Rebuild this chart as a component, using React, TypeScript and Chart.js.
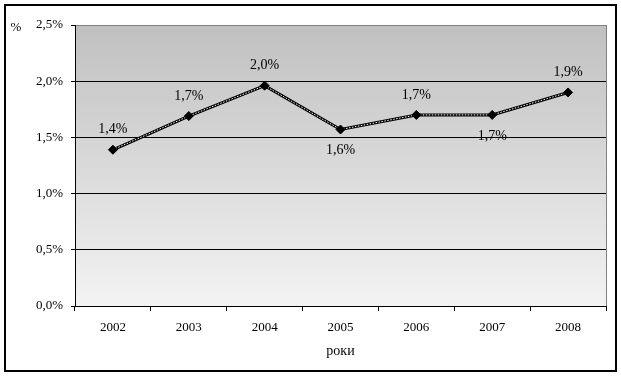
import React, { useEffect, useRef } from "react";
import { Chart, registerables } from "chart.js";

Chart.register(...registerables);

const years = ["2002", "2003", "2004", "2005", "2006", "2007", "2008"];
const shares = [1.39, 1.69, 1.96, 1.57, 1.7, 1.7, 1.9];
const pointLabels = ["1,4%", "1,7%", "2,0%", "1,6%", "1,7%", "1,7%", "1,9%"];
const labelBelow = [false, false, false, true, false, true, false];
const yTicksMax = 2.5;
const yUnit = "%";
const xTitle = "роки";

const FONT = "'Liberation Serif', 'Times New Roman', serif";

const decorPlugin = {
  id: "decor",
  beforeDraw(chart: any) {
    const { ctx, chartArea: a } = chart;
    ctx.save();
    const g = ctx.createLinearGradient(0, a.top, 0, a.bottom);
    g.addColorStop(0, "#c0c0c0");
    g.addColorStop(1, "#f3f3f3");
    ctx.fillStyle = g;
    ctx.fillRect(a.left, a.top, a.right - a.left, a.bottom - a.top);
    ctx.restore();
  },
  afterDraw(chart: any) {
    const { ctx, chartArea: a } = chart;
    ctx.save();
    ctx.strokeStyle = "#808080";
    ctx.lineWidth = 1;
    ctx.beginPath();
    ctx.moveTo(a.right + 0.5, a.top);
    ctx.lineTo(a.right + 0.5, a.bottom);
    ctx.stroke();
    ctx.strokeStyle = "#000";
    ctx.lineWidth = 2;
    ctx.strokeRect(5, 5, 611, 366);
    ctx.fillStyle = "#000";
    ctx.font = `13px ${FONT}`;
    ctx.textAlign = "center";
    ctx.textBaseline = "middle";
    ctx.fillText(yUnit, 16, 28);
    const meta = chart.getDatasetMeta(0);
    ctx.font = `14px ${FONT}`;
    meta.data.forEach((pt: any, i: number) => {
      const dy = labelBelow[i] ? 21 : -20;
      ctx.fillText(pointLabels[i], pt.x, pt.y + dy);
    });
    ctx.restore();
  },
};

export default function App() {
  const ref = useRef<HTMLCanvasElement | null>(null);
  useEffect(() => {
    if (!ref.current) return;
    const chart = new Chart(ref.current, {
      type: "line",
      data: {
        labels: years,
        datasets: [
          {
            data: shares,
            showLine: false,
            pointStyle: "rectRot",
            pointRadius: 4.5,
            pointBackgroundColor: "#000",
            pointBorderColor: "#000",
          },
          {
            data: shares,
            borderColor: "#ffffff",
            borderWidth: 1,
            borderDash: [1.5, 1.5],
            pointRadius: 0,
            fill: false,
            tension: 0,
          },
          {
            data: shares,
            borderColor: "#000",
            borderWidth: 3,
            pointRadius: 0,
            fill: false,
            tension: 0,
          },
        ],
      },
      options: {
        responsive: false,
        animation: false,
        layout: { padding: { left: 0, right: 15, top: 25, bottom: 0 } },
        plugins: { legend: { display: false }, tooltip: { enabled: false } },
        scales: {
          x: {
            offset: true,
            grid: {
              offset: true,
              drawOnChartArea: false,
              drawTicks: true,
              tickLength: 5,
              color: "#000",
            },
            border: { color: "#000", width: 1 },
            ticks: {
              color: "#000",
              font: { family: FONT, size: 13 },
              padding: 9,
              maxRotation: 0,
            },
            title: {
              display: true,
              text: xTitle,
              color: "#000",
              font: { family: FONT, size: 14 },
              padding: { top: 0, bottom: 17 },
            },
            afterFit(scale: any) {
              scale.height = 71;
            },
          },
          y: {
            min: 0,
            max: yTicksMax,
            grid: {
              color: (c: any) => (c.tick && c.tick.value === yTicksMax ? "#808080" : "#000"),
              tickColor: "#000",
              tickLength: 4,
              lineWidth: 1,
            },
            border: { color: "#000", width: 1 },
            ticks: {
              stepSize: 0.5,
              color: "#000",
              font: { family: FONT, size: 13 },
              padding: 8,
              callback: (v: any) => Number(v).toFixed(1).replace(".", ",") + "%",
            },
            afterFit(scale: any) {
              scale.width = 75;
            },
          },
        },
      },
      plugins: [decorPlugin],
    });
    return () => chart.destroy();
  }, []);
  return (
    <div style={{ position: "fixed", left: 0, top: 0, width: 621, height: 377, background: "#fff" }}>
      <canvas ref={ref} width={621} height={377} />
    </div>
  );
}
